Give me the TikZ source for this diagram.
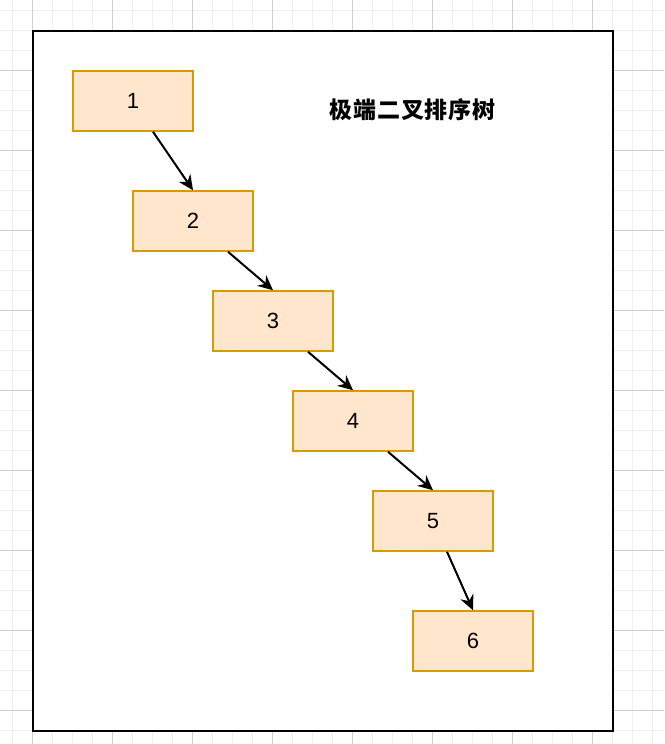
\documentclass[tikz,border=0pt]{standalone}
\usepackage{fontspec}
\setmainfont{Liberation Sans}
\newfontfamily\cjk[LetterSpace=4]{Noto Sans CJK SC}
\usetikzlibrary{arrows.meta}
\definecolor{boxfill}{HTML}{FFE6CC}
\definecolor{boxline}{HTML}{D79B00}
\definecolor{gridminor}{HTML}{EFEFEF}
\definecolor{gridmajor}{HTML}{D0D0D0}
\tikzset{
  minorline/.style={draw=gridminor, line width=1pt},
  majorline/.style={draw=gridmajor, line width=1pt},
  treebox/.style={draw=boxline, fill=boxfill, line width=1.5pt, minimum width=120pt, minimum height=60pt, inner sep=0pt, font=\fontsize{22}{26}\selectfont},
  edge/.style={draw=black, line width=2pt, -{Stealth[length=15pt,width=14pt,inset=5pt]}},
}
\begin{document}
\begin{tikzpicture}[x=1pt,y=-1pt]
\useasboundingbox (0,0) rectangle (664,744);
\fill[white] (0,0) rectangle (664,744);
\foreach \x in {12,32,...,652} \draw[minorline] (\x,0) -- (\x,744);
\foreach \y in {10,30,...,730} \draw[minorline] (0,\y) -- (664,\y);
\foreach \x in {32,112,...,592} \draw[majorline] (\x,0) -- (\x,744);
\foreach \y in {70,150,...,710} \draw[majorline] (0,\y) -- (664,\y);
\draw[black, line width=2.3pt, fill=white] (33,31) rectangle (613,731);
\node[font={\cjk\bfseries\fontsize{23}{27}\selectfont}] (title) at (412.5,110) {极端二叉排序树};
\node[treebox] (b1) at (133,101) {1};
\node[treebox] (b2) at (193,221) {2};
\node[treebox] (b3) at (273,321) {3};
\node[treebox] (b4) at (353,421) {4};
\node[treebox] (b5) at (433,521) {5};
\node[treebox] (b6) at (473,641) {6};
\draw[edge] ([xshift=20pt]b1.south) -- (b2.north);
\draw[edge] ([xshift=35pt]b2.south) -- (b3.north);
\draw[edge] ([xshift=35pt]b3.south) -- (b4.north);
\draw[edge] ([xshift=35pt]b4.south) -- (b5.north);
\draw[edge] ([xshift=14pt]b5.south) -- (b6.north);
\end{tikzpicture}
\end{document}
